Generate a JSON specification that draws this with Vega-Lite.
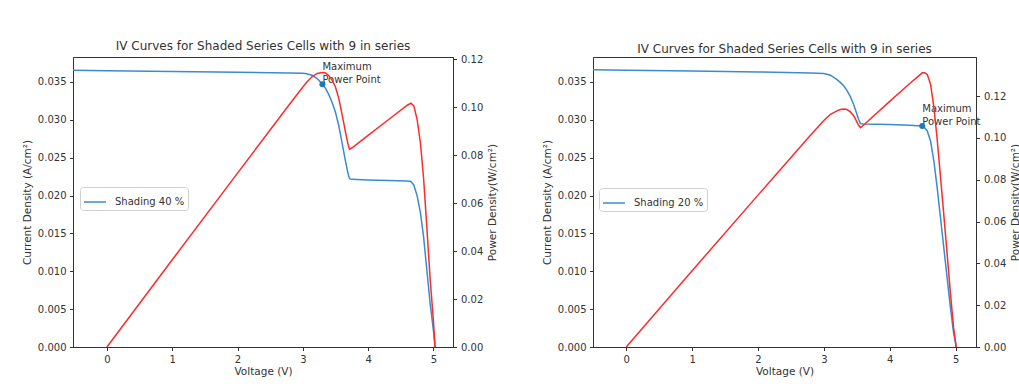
{
  "$schema": "https://vega.github.io/schema/vega-lite/v6.json",
  "autosize": {"type": "pad"},
  "padding": {"left": 21, "top": 39, "right": 0, "bottom": 0},
  "background": "white",
  "bounds": "flush",
  "spacing": 140,
  "config": {
    "font": "DejaVu Sans",
    "view": {"stroke": "#333333", "strokeWidth": 1},
    "axis": {
      "grid": false,
      "labelFont": "DejaVu Sans", "labelFontSize": 10, "labelColor": "#333333",
      "titleFont": "DejaVu Sans", "titleFontSize": 10.5, "titleFontWeight": "normal", "titleColor": "#333333",
      "tickColor": "#333333", "tickSize": 3.5, "tickWidth": 1, "labelPadding": 3.5,
      "domainColor": "#333333", "domainWidth": 1
    },
    "title": {"font": "DejaVu Sans", "fontSize": 12, "fontWeight": "normal", "color": "#333333", "offset": 1},
    "legend": {
      "orient": "none", "title": null, "symbolType": "stroke", "symbolSize": 484, "symbolStrokeWidth": 1.5,
      "labelFont": "DejaVu Sans", "labelFontSize": 10, "labelColor": "#333333", "labelOffset": 8,
      "strokeColor": "#d0d0d0", "fillColor": "white", "padding": 3, "cornerRadius": 3
    }
  },
  "datasets": {
    "s40": [
      {"V": -0.52, "J": 0.03654, "P": null},
      {"V": 0, "J": 0.03648, "P": 0},
      {"V": 1, "J": 0.03638, "P": 0.03638},
      {"V": 2, "J": 0.03628, "P": 0.07256},
      {"V": 2.8, "J": 0.0362, "P": 0.10136},
      {"V": 3.0, "J": 0.03616, "P": 0.10848},
      {"V": 3.06, "J": 0.0361, "P": 0.11047},
      {"V": 3.14, "J": 0.0359, "P": 0.11273},
      {"V": 3.22, "J": 0.03545, "P": 0.11415},
      {"V": 3.3, "J": 0.0347, "P": 0.11451},
      {"V": 3.35, "J": 0.03412, "P": 0.1143},
      {"V": 3.4, "J": 0.0333, "P": 0.11322},
      {"V": 3.45, "J": 0.03225, "P": 0.11126},
      {"V": 3.5, "J": 0.031, "P": 0.1085},
      {"V": 3.55, "J": 0.02925, "P": 0.10384},
      {"V": 3.6, "J": 0.027, "P": 0.0972},
      {"V": 3.65, "J": 0.0247, "P": 0.09016},
      {"V": 3.69, "J": 0.023, "P": 0.08487},
      {"V": 3.715, "J": 0.02222, "P": 0.08255},
      {"V": 3.75, "J": 0.02214, "P": 0.08303},
      {"V": 4.0, "J": 0.02207, "P": 0.08828},
      {"V": 4.3, "J": 0.022, "P": 0.0946},
      {"V": 4.6, "J": 0.02193, "P": 0.10088},
      {"V": 4.655, "J": 0.02185, "P": 0.10171},
      {"V": 4.7, "J": 0.0214, "P": 0.10058},
      {"V": 4.75, "J": 0.02, "P": 0.095},
      {"V": 4.8, "J": 0.0178, "P": 0.08544},
      {"V": 4.85, "J": 0.0145, "P": 0.07033},
      {"V": 4.9, "J": 0.01013, "P": 0.04964},
      {"V": 4.95, "J": 0.00573, "P": 0.02836},
      {"V": 5.0, "J": 0.0022, "P": 0.011},
      {"V": 5.025, "J": 0, "P": 0}
    ],
    "s20": [
      {"V": -0.505, "J": 0.03662, "P": null},
      {"V": 0, "J": 0.03655, "P": 0},
      {"V": 1, "J": 0.03645, "P": 0.03645},
      {"V": 2, "J": 0.03632, "P": 0.07264},
      {"V": 2.8, "J": 0.0362, "P": 0.10136},
      {"V": 3.0, "J": 0.03612, "P": 0.10836},
      {"V": 3.1, "J": 0.0359, "P": 0.11129},
      {"V": 3.2, "J": 0.0353, "P": 0.11296},
      {"V": 3.25, "J": 0.03495, "P": 0.11359},
      {"V": 3.3, "J": 0.0345, "P": 0.11385},
      {"V": 3.35, "J": 0.0339, "P": 0.11357},
      {"V": 3.4, "J": 0.0331, "P": 0.11254},
      {"V": 3.45, "J": 0.0321, "P": 0.11075},
      {"V": 3.5, "J": 0.0308, "P": 0.1078},
      {"V": 3.53, "J": 0.03, "P": 0.1059},
      {"V": 3.557, "J": 0.0295, "P": 0.10493},
      {"V": 3.6, "J": 0.02946, "P": 0.10606},
      {"V": 4.0, "J": 0.02937, "P": 0.11748},
      {"V": 4.3, "J": 0.02928, "P": 0.1259},
      {"V": 4.494, "J": 0.02918, "P": 0.13113},
      {"V": 4.53, "J": 0.02895, "P": 0.13114},
      {"V": 4.57, "J": 0.02853, "P": 0.13038},
      {"V": 4.62, "J": 0.02722, "P": 0.12576},
      {"V": 4.67, "J": 0.02459, "P": 0.11484},
      {"V": 4.72, "J": 0.02108, "P": 0.0995},
      {"V": 4.77, "J": 0.01715, "P": 0.08181},
      {"V": 4.82, "J": 0.01321, "P": 0.06367},
      {"V": 4.87, "J": 0.00927, "P": 0.04514},
      {"V": 4.92, "J": 0.00533, "P": 0.02622},
      {"V": 4.97, "J": 0.00184, "P": 0.00914},
      {"V": 5.01, "J": 0, "P": 0}
    ],
    "mpp40": [{"V": 3.3, "J": 0.0347, "label": "Maximum\nPower Point"}],
    "mpp20": [{"V": 4.494, "J": 0.02918, "label": "Maximum\nPower Point"}]
  },
  "hconcat": [
    {
      "width": 380,
      "height": 290,
      "title": "IV Curves for Shaded Series Cells with 9 in series",
      "layer": [
        {
          "layer": [
            {
              "data": {"name": "s40"},
              "mark": {"type": "line", "strokeWidth": 1.5},
              "encoding": {
                "x": {"field": "V", "type": "quantitative", "scale": {"domain": [-0.52, 5.3], "nice": false, "zero": false},
                      "axis": {"values": [0, 1, 2, 3, 4, 5], "format": "d", "title": "Voltage (V)", "titlePadding": 2}},
                "y": {"field": "J", "type": "quantitative", "scale": {"domain": [0, 0.0383], "nice": false},
                      "axis": {"orient": "left", "values": [0, 0.005, 0.01, 0.015, 0.02, 0.025, 0.03, 0.035], "format": ".3f", "title": "Current Density (A/cm²)", "titlePadding": 5}},
                "color": {"datum": "Shading 40 %", "type": "nominal", "scale": {"range": ["#3a8ccf"]},
                          "legend": {"legendX": 7, "legendY": 130}}
              }
            },
            {
              "data": {"name": "mpp40"},
              "mark": {"type": "text", "align": "left", "baseline": "bottom", "dy": -12, "lineBreak": "\n", "fontSize": 10, "lineHeight": 12.5, "color": "#333333", "font": "DejaVu Sans"},
              "encoding": {
                "x": {"field": "V", "type": "quantitative"},
                "y": {"field": "J", "type": "quantitative"},
                "text": {"field": "label"}
              }
            },
            {
              "data": {"name": "mpp40"},
              "mark": {"type": "point", "filled": true, "size": 36, "color": "#1f77b4", "opacity": 1},
              "encoding": {
                "x": {"field": "V", "type": "quantitative"},
                "y": {"field": "J", "type": "quantitative"}
              }
            }
          ]
        },
        {
          "data": {"name": "s40"},
          "mark": {"type": "line", "color": "#ff2a2a", "strokeWidth": 1.5},
          "encoding": {
            "x": {"field": "V", "type": "quantitative"},
            "y": {"field": "P", "type": "quantitative", "scale": {"domain": [0, 0.121], "nice": false},
                  "axis": {"orient": "right", "values": [0, 0.02, 0.04, 0.06, 0.08, 0.1, 0.12], "format": ".2f", "title": "Power Density(W/cm²)", "titleAngle": 270, "titleBaseline": "top", "titlePadding": 5, "labelPadding": 4}}
          }
        }
      ],
      "resolve": {"scale": {"y": "independent"}}
    },
    {
      "width": 383,
      "height": 290,
      "title": "IV Curves for Shaded Series Cells with 9 in series",
      "layer": [
        {
          "layer": [
            {
              "data": {"name": "s20"},
              "mark": {"type": "line", "strokeWidth": 1.5},
              "encoding": {
                "x": {"field": "V", "type": "quantitative", "scale": {"domain": [-0.505, 5.31], "nice": false, "zero": false},
                      "axis": {"values": [0, 1, 2, 3, 4, 5], "format": "d", "title": "Voltage (V)", "titlePadding": 2}},
                "y": {"field": "J", "type": "quantitative", "scale": {"domain": [0, 0.0383], "nice": false},
                      "axis": {"orient": "left", "values": [0, 0.005, 0.01, 0.015, 0.02, 0.025, 0.03, 0.035], "format": ".3f", "title": "Current Density (A/cm²)", "titlePadding": 5}},
                "color": {"datum": "Shading 20 %", "type": "nominal", "scale": {"range": ["#3a8ccf"]},
                          "legend": {"legendX": 6, "legendY": 131}}
              }
            },
            {
              "data": {"name": "mpp20"},
              "mark": {"type": "text", "align": "left", "baseline": "bottom", "dy": -12, "lineBreak": "\n", "fontSize": 10, "lineHeight": 12.5, "color": "#333333", "font": "DejaVu Sans"},
              "encoding": {
                "x": {"field": "V", "type": "quantitative"},
                "y": {"field": "J", "type": "quantitative"},
                "text": {"field": "label"}
              }
            },
            {
              "data": {"name": "mpp20"},
              "mark": {"type": "point", "filled": true, "size": 36, "color": "#1f77b4", "opacity": 1},
              "encoding": {
                "x": {"field": "V", "type": "quantitative"},
                "y": {"field": "J", "type": "quantitative"}
              }
            }
          ]
        },
        {
          "data": {"name": "s20"},
          "mark": {"type": "line", "color": "#ff2a2a", "strokeWidth": 1.5},
          "encoding": {
            "x": {"field": "V", "type": "quantitative"},
            "y": {"field": "P", "type": "quantitative", "scale": {"domain": [0, 0.1387], "nice": false},
                  "axis": {"orient": "right", "values": [0, 0.02, 0.04, 0.06, 0.08, 0.1, 0.12], "format": ".2f", "title": "Power Density(W/cm²)", "titleAngle": 270, "titleBaseline": "top", "titlePadding": 5, "labelPadding": 4}}
          }
        }
      ],
      "resolve": {"scale": {"y": "independent"}}
    }
  ],
  "resolve": {"scale": {"color": "independent"}, "legend": {"color": "independent"}}
}
